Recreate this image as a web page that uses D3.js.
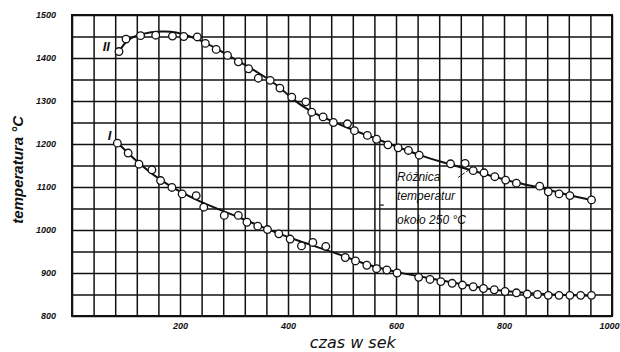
<!DOCTYPE html>
<html>
<head>
<meta charset="utf-8">
<script src="https://cdn.jsdelivr.net/npm/d3@7"></script>
<style>
  html, body { margin: 0; padding: 0; background: #fff; }
  #chart { width: 620px; height: 352px; }
</style>
</head>
<body>
<div id="chart"></div>
<script>
// measured points, curve II (upper)
const timeII = [87, 100, 127, 155, 186, 207, 232, 247, 267, 288, 308, 327, 345, 367, 385, 407, 433, 444, 465, 484,
  510, 523, 547, 564, 585, 604, 623, 643, 701, 728, 743, 763, 783, 803, 823, 866, 882, 902, 922, 962];
const tempII = [1415, 1444, 1452, 1453, 1451, 1450, 1449, 1434, 1420, 1406, 1391, 1375, 1353, 1348, 1330, 1309, 1298, 1274, 1263, 1250,
  1247, 1231, 1220, 1211, 1198, 1191, 1185, 1174, 1154, 1155, 1138, 1133, 1124, 1116, 1109, 1102, 1089, 1084, 1080, 1070];

// measured points, curve I (lower)
const timeI = [84, 104, 124, 148, 164, 185, 204, 230, 244, 282, 308, 324, 344, 362, 383, 404, 425, 446, 470, 506,
  525, 546, 564, 583, 602, 642, 663, 683, 704, 723, 743, 762, 782, 802, 823, 843, 862, 882, 902, 922, 942, 962];
const tempI = [1202, 1179, 1153, 1140, 1115, 1099, 1084, 1080, 1053, 1034, 1034, 1018, 1009, 1001, 991, 979, 963, 971, 962, 936,
  928, 918, 910, 907, 900, 890, 885, 880, 876, 872, 868, 864, 861, 857, 854, 851, 850, 848, 848, 848, 848, 848];

// hand-drawn smoothing lines
const fitTimeII = [87, 101, 126, 169, 194, 212, 237, 268, 305, 348, 385, 404, 441, 484, 521, 564, 601, 644, 681, 743, 823, 867, 922, 962];
const fitTempII = [1415, 1442, 1457, 1463, 1460, 1453, 1442, 1422, 1395, 1364, 1333, 1308, 1275, 1252, 1232, 1212, 1194, 1174, 1159, 1138, 1109, 1099, 1080, 1070];
const fitTimeI = [85, 126, 175, 237, 299, 361, 422, 484, 546, 607, 681, 762, 842, 962];
const fitTempI = [1202, 1151, 1105, 1065, 1035, 1002, 973, 949, 918, 900, 884, 864, 852, 847];

const xTicks = [200, 400, 600, 800, 1000];
const yTicks = [800, 900, 1000, 1100, 1200, 1300, 1400, 1500];

const margin = { top: 15, right: 8, bottom: 36, left: 72 };
const width = 620 - margin.left - margin.right;
const height = 352 - margin.top - margin.bottom;

const svg = d3.select('#chart')
  .append('svg')
    .attr('width', 620)
    .attr('height', 352)
  .append('g')
    .attr('transform', `translate(${margin.left},${margin.top})`);

const x = d3.scaleLinear().domain([0, 1000]).range([0, width]);
const y = d3.scaleLinear().domain([800, 1500]).range([height, 0]);

// grid: every 40 s and every 50 deg
svg.append('g')
  .call(d3.axisTop(x).tickValues(d3.range(0, 1001, 40)).tickSize(-height).tickFormat(() => ''))
  .call(g => g.select('.domain').remove())
  .selectAll('line')
    .style('stroke', '#111')
    .style('stroke-width', 1.5);

svg.append('g')
  .call(d3.axisLeft(y).tickValues(d3.range(800, 1501, 50)).tickSize(-width).tickFormat(() => ''))
  .call(g => g.select('.domain').remove())
  .selectAll('line')
    .style('stroke', '#111')
    .style('stroke-width', 1.5);

// frame
svg.append('rect')
  .attr('width', width)
  .attr('height', height)
  .attr('fill', 'none')
  .attr('stroke', '#111')
  .attr('stroke-width', 2);

// tick labels
svg.append('g')
  .attr('transform', `translate(0,${height})`)
  .call(d3.axisBottom(x).tickValues(xTicks).tickSize(0).tickPadding(7).tickFormat(d3.format('d')))
  .call(g => g.select('.domain').remove())
  .selectAll('text')
    .attr('text-anchor', d => d === 1000 ? 'end' : 'middle')
    .attr('dx', d => d === 1000 ? 7 : 0)
    .style('font-family', '"Liberation Sans", Arial, sans-serif')
    .style('font-style', 'italic')
    .style('font-weight', 'bold')
    .style('font-size', '9px')
    .style('fill', '#111');

svg.append('g')
  .call(d3.axisLeft(y).tickValues(yTicks).tickSize(0).tickPadding(16).tickFormat(d3.format('d')))
  .call(g => g.select('.domain').remove())
  .selectAll('text')
    .style('font-family', '"Liberation Sans", Arial, sans-serif')
    .style('font-style', 'italic')
    .style('font-weight', 'bold')
    .style('font-size', '9px')
    .style('fill', '#111');

// axis titles
svg.append('text')
  .attr('x', x(520))
  .attr('y', height + 32)
  .attr('text-anchor', 'middle')
  .style('font-family', '"DejaVu Sans", sans-serif')
  .style('font-size', '16px')
  .style('font-style', 'italic')
  .style('fill', '#111')
  .text('czas w sek');

svg.append('text')
  .attr('transform', `translate(${-49},${y(1140)}) rotate(-90)`)
  .attr('text-anchor', 'middle')
  .style('font-family', '"Liberation Sans", Arial, sans-serif')
  .style('font-size', '15px')
  .style('font-style', 'italic')
  .style('font-weight', 'bold')
  .style('fill', '#111')
  .text('temperatura °C');

// fitted lines
const line = d3.line()
  .x(d => x(d[0]))
  .y(d => y(d[1]))
  .curve(d3.curveBasis);

svg.append('path')
  .datum(d3.zip(fitTimeII, fitTempII))
  .attr('fill', 'none')
  .attr('stroke', '#111')
  .attr('stroke-width', 2)
  .attr('d', line);

svg.append('path')
  .datum(d3.zip(fitTimeI, fitTempI))
  .attr('fill', 'none')
  .attr('stroke', '#111')
  .attr('stroke-width', 2)
  .attr('d', line);

// difference bracket
svg.append('line')
  .attr('x1', x(570)).attr('x2', x(570))
  .attr('y1', y(1208)).attr('y2', y(908))
  .attr('stroke', '#111')
  .attr('stroke-width', 1.2);
svg.append('line')
  .attr('x1', x(570)).attr('x2', x(570) + 4)
  .attr('y1', y(1058)).attr('y2', y(1058))
  .attr('stroke', '#111')
  .attr('stroke-width', 1.2);

// annotation
const note = [['Różnica', 1113], ['temperatur', 1069], ['około 250 °C', 1014]];
svg.selectAll('.note')
  .data(note)
  .join('text')
    .attr('class', 'note')
    .attr('x', x(602))
    .attr('y', d => y(d[1]))
    .text(d => d[0])
    .style('font-family', '"Liberation Sans", Arial, sans-serif')
    .style('font-style', 'italic')
    .style('font-size', '12px')
    .style('fill', '#111');

svg.append('line')
  .attr('x1', x(715)).attr('x2', x(735))
  .attr('y1', y(1122)).attr('y2', y(1140))
  .attr('stroke', '#111')
  .attr('stroke-width', 1)
  .attr('stroke-dasharray', '3,2');

// measured points
svg.selectAll('.ptII')
  .data(d3.zip(timeII, tempII))
  .join('circle')
    .attr('class', 'ptII')
    .attr('cx', d => x(d[0]))
    .attr('cy', d => y(d[1]))
    .attr('r', 3.8)
    .attr('fill', '#fff')
    .attr('stroke', '#111')
    .attr('stroke-width', 1.3);

svg.selectAll('.ptI')
  .data(d3.zip(timeI, tempI))
  .join('circle')
    .attr('class', 'ptI')
    .attr('cx', d => x(d[0]))
    .attr('cy', d => y(d[1]))
    .attr('r', 3.8)
    .attr('fill', '#fff')
    .attr('stroke', '#111')
    .attr('stroke-width', 1.3);

// curve labels
svg.append('text')
  .attr('x', x(87) - 9)
  .attr('y', y(1415) - 1)
  .attr('text-anchor', 'end')
  .style('font-family', '"Liberation Sans", Arial, sans-serif')
  .style('font-style', 'italic')
  .style('font-weight', 'bold')
  .style('font-size', '13px')
  .style('fill', '#111')
  .text('II');

svg.append('text')
  .attr('x', x(84) - 6)
  .attr('y', y(1210))
  .attr('text-anchor', 'end')
  .style('font-family', '"Liberation Sans", Arial, sans-serif')
  .style('font-style', 'italic')
  .style('font-weight', 'bold')
  .style('font-size', '13px')
  .style('fill', '#111')
  .text('I');
</script>
</body>
</html>
